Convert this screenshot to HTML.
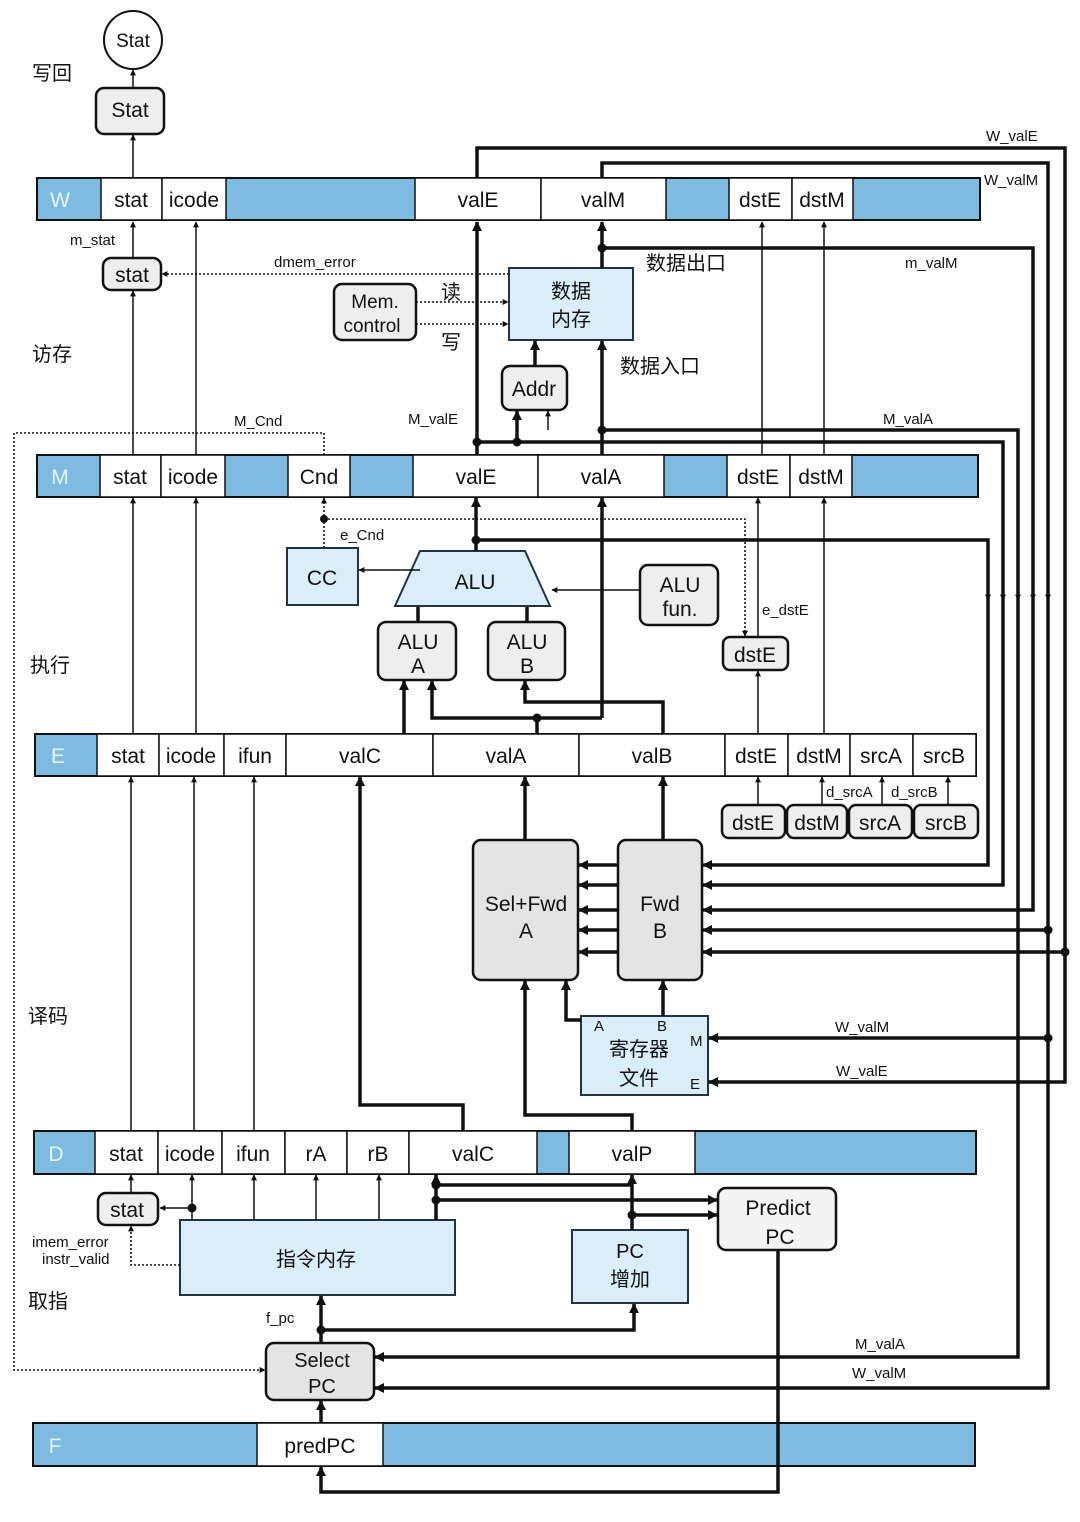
<!DOCTYPE html>
<html><head><meta charset="utf-8"><style>
html,body{margin:0;padding:0;background:#fff}
svg{display:block}
text{font-family:"Liberation Sans","Noto Sans CJK SC",sans-serif;fill:#111}
.cj{font-family:"Liberation Sans","Noto Sans CJK SC",sans-serif}
</style></head><body>
<svg width="1080" height="1522" viewBox="0 0 1080 1522" xmlns="http://www.w3.org/2000/svg">
<defs>
<marker id="a" viewBox="0 0 10 10" refX="9" refY="5" markerWidth="11" markerHeight="10" markerUnits="userSpaceOnUse" orient="auto-start-reverse"><path d="M0,0 L10,5 L0,10 z" fill="#111"/></marker>
<marker id="b" viewBox="0 0 10 10" refX="9" refY="5" markerWidth="7" markerHeight="6" markerUnits="userSpaceOnUse" orient="auto-start-reverse"><path d="M0,0 L10,5 L0,10 z" fill="#111"/></marker>
</defs>
<g fill="#7dbbe0" stroke="#111" stroke-width="2">
<rect x="37" y="178" width="943" height="42"/>
<rect x="37" y="455" width="941" height="42"/>
<rect x="35" y="734" width="941" height="42"/>
<rect x="34" y="1131" width="942" height="43"/>
<rect x="33" y="1423" width="942" height="43"/>
</g>
<g fill="#fff" stroke="#111" stroke-width="1.5">
<rect x="101" y="178" width="61" height="42"/><rect x="162" y="178" width="64" height="42"/>
<rect x="415" y="178" width="126" height="42"/><rect x="541" y="178" width="125" height="42"/>
<rect x="729" y="178" width="63" height="42"/><rect x="792" y="178" width="61" height="42"/>
<rect x="100" y="455" width="61" height="42"/><rect x="161" y="455" width="64" height="42"/>
<rect x="288" y="455" width="62" height="42"/>
<rect x="413" y="455" width="125" height="42"/><rect x="538" y="455" width="126" height="42"/>
<rect x="727" y="455" width="63" height="42"/><rect x="790" y="455" width="62" height="42"/>
<rect x="97" y="734" width="62" height="42"/><rect x="159" y="734" width="65" height="42"/>
<rect x="224" y="734" width="62" height="42"/><rect x="286" y="734" width="147" height="42"/>
<rect x="433" y="734" width="146" height="42"/><rect x="579" y="734" width="146" height="42"/>
<rect x="725" y="734" width="63" height="42"/><rect x="788" y="734" width="62" height="42"/>
<rect x="850" y="734" width="63" height="42"/><rect x="913" y="734" width="63" height="42"/>
<rect x="95" y="1131" width="63" height="43"/><rect x="158" y="1131" width="64" height="43"/>
<rect x="222" y="1131" width="63" height="43"/><rect x="285" y="1131" width="62" height="43"/>
<rect x="347" y="1131" width="62" height="43"/><rect x="409" y="1131" width="128" height="43"/>
<rect x="569" y="1131" width="126" height="43"/>
<rect x="257" y="1423" width="126" height="43"/>
</g>
<g font-size="21" text-anchor="middle">
<text x="60" y="207" style="fill:#e8f4fb">W</text>
<text x="131" y="207">stat</text><text x="194" y="207">icode</text><text x="478" y="207">valE</text><text x="603" y="207">valM</text><text x="760" y="207">dstE</text><text x="822" y="207">dstM</text>
<text x="60" y="484" style="fill:#e8f4fb">M</text>
<text x="130" y="484">stat</text><text x="193" y="484">icode</text><text x="319" y="484">Cnd</text><text x="476" y="484">valE</text><text x="601" y="484">valA</text><text x="758" y="484">dstE</text><text x="821" y="484">dstM</text>
<text x="58" y="763" style="fill:#e8f4fb">E</text>
<text x="128" y="763">stat</text><text x="191" y="763">icode</text><text x="255" y="763">ifun</text><text x="360" y="763">valC</text><text x="506" y="763">valA</text><text x="652" y="763">valB</text><text x="756" y="763">dstE</text><text x="819" y="763">dstM</text><text x="881" y="763">srcA</text><text x="944" y="763">srcB</text>
<text x="56" y="1161" style="fill:#e8f4fb">D</text>
<text x="126" y="1161">stat</text><text x="190" y="1161">icode</text><text x="253" y="1161">ifun</text><text x="316" y="1161">rA</text><text x="378" y="1161">rB</text><text x="473" y="1161">valC</text><text x="632" y="1161">valP</text>
<text x="55" y="1453" style="fill:#e8f4fb">F</text>
<text x="320" y="1453">predPC</text>
</g>
<g font-size="20" class="cj">
<text x="32" y="80">写回</text><text x="32" y="361">访存</text><text x="30" y="672">执行</text><text x="28" y="1023">译码</text><text x="28" y="1308">取指</text>
</g>
<circle cx="133" cy="40" r="29" fill="#fff" stroke="#111" stroke-width="2"/>
<text x="133" y="47" font-size="19" text-anchor="middle">Stat</text>
<g stroke="#111" stroke-width="2.5" fill="#eee">
<rect x="96" y="88" width="68" height="46" rx="8"/>
<rect x="103" y="258" width="58" height="32" rx="8"/>
<rect x="334" y="284" width="82" height="56" rx="8"/>
<rect x="502" y="366" width="65" height="44" rx="8"/>
<rect x="640" y="565" width="78" height="60" rx="8"/>
<rect x="378" y="622" width="78" height="58" rx="8"/>
<rect x="488" y="622" width="77" height="58" rx="8"/>
<rect x="723" y="637" width="65" height="33" rx="7"/>
<rect x="722" y="805" width="63" height="33" rx="7"/><rect x="787" y="805" width="60" height="33" rx="7"/>
<rect x="849" y="805" width="63" height="33" rx="7"/><rect x="914" y="805" width="64" height="33" rx="7"/>
<rect x="473" y="840" width="105" height="140" rx="8" fill="#e4e4e4"/>
<rect x="618" y="840" width="84" height="140" rx="8" fill="#e4e4e4"/>
<rect x="98" y="1193" width="60" height="32" rx="8"/>
<rect x="718" y="1188" width="118" height="62" rx="8" fill="#f4f4f4"/>
<rect x="266" y="1343" width="108" height="57" rx="8" fill="#e4e4e4"/>
</g>
<g stroke="#234" stroke-width="2" fill="#d9eef9">
<rect x="509" y="268" width="124" height="72"/>
<rect x="287" y="548" width="71" height="57"/>
<path d="M395,606 L420,551 L525,551 L550,606 Z"/>
<rect x="581" y="1016" width="127" height="79"/>
<rect x="180" y="1220" width="275" height="75"/>
<rect x="572" y="1230" width="116" height="73"/>
</g>
<g font-size="21" text-anchor="middle">
<text x="130" y="117">Stat</text>
<text x="132" y="282">stat</text>
<text x="375" y="308" font-size="19">Mem.</text><text x="372" y="332" font-size="19">control</text>
<text x="534" y="396">Addr</text>
<text x="322" y="585">CC</text>
<text x="475" y="589">ALU</text>
<text x="680" y="592">ALU</text><text x="680" y="616">fun.</text>
<text x="418" y="649">ALU</text><text x="418" y="673">A</text>
<text x="527" y="649">ALU</text><text x="527" y="673">B</text>
<text x="755" y="662">dstE</text>
<text x="753" y="830">dstE</text><text x="817" y="830">dstM</text><text x="880" y="830">srcA</text><text x="946" y="830">srcB</text>
<text x="526" y="911">Sel+Fwd</text><text x="526" y="938">A</text>
<text x="660" y="911">Fwd</text><text x="660" y="938">B</text>
<text x="127" y="1217">stat</text>
<text x="778" y="1215">Predict</text><text x="780" y="1244">PC</text>
<text x="322" y="1367" font-size="20">Select</text><text x="322" y="1393" font-size="20">PC</text>
</g>
<g font-size="20" text-anchor="middle" class="cj">
<text x="571" y="298">数据</text><text x="571" y="326">内存</text>
<text x="639" y="1056">寄存器</text><text x="639" y="1085">文件</text>
<text x="316" y="1266">指令内存</text>
<text x="630" y="1258">PC</text><text x="630" y="1286">增加</text>
<text x="686" y="270">数据出口</text>
<text x="660" y="373">数据入口</text>
<text x="451" y="299">读</text><text x="451" y="349">写</text>
</g>
<g font-size="15">
<text x="594" y="1031">A</text><text x="657" y="1031">B</text><text x="690" y="1046">M</text><text x="690" y="1089">E</text>
<text x="986" y="141">W_valE</text><text x="984" y="185">W_valM</text>
<text x="70" y="245">m_stat</text><text x="274" y="267">dmem_error</text>
<text x="905" y="268">m_valM</text>
<text x="234" y="426">M_Cnd</text><text x="408" y="424">M_valE</text><text x="883" y="424">M_valA</text>
<text x="340" y="540">e_Cnd</text><text x="762" y="615">e_dstE</text>
<text x="826" y="797">d_srcA</text><text x="891" y="797">d_srcB</text>
<text x="835" y="1032">W_valM</text><text x="836" y="1076">W_valE</text>
<text x="32" y="1247">imem_error</text><text x="42" y="1264">instr_valid</text>
<text x="266" y="1323">f_pc</text>
<text x="855" y="1349">M_valA</text><text x="852" y="1378">W_valM</text>
</g>
<g stroke="#111" stroke-width="1.5" fill="none" marker-end="url(#b)">
<path d="M133,88 V70"/><path d="M133,178 V135"/><path d="M133,258 V222"/><path d="M133,455 V291"/>
<path d="M196,455 V222"/>
<path d="M762,455 V222"/><path d="M824,455 V222"/>
<path d="M133,734 V498"/><path d="M196,734 V498"/>
<path d="M758,637 V498"/><path d="M824,734 V498"/><path d="M758,734 V671"/>
<path d="M131,1131 V777"/><path d="M194,1131 V777"/><path d="M254,1131 V777"/>
<path d="M758,805 V777"/><path d="M822,805 V777"/><path d="M882,805 V777"/><path d="M948,805 V777"/>
<path d="M192,1220 V1175"/><path d="M254,1220 V1175"/><path d="M316,1220 V1175"/><path d="M379,1220 V1175"/>
<path d="M192,1208 H160"/><path d="M131,1193 V1175"/>
<path d="M548,430 V411"/>
<path d="M420,570 H359"/><path d="M640,590 H552"/>
</g>
<g stroke="#111" stroke-width="1.6" fill="none" stroke-dasharray="2,2" marker-end="url(#b)">
<path d="M509,274 H162"/><path d="M416,302 H508"/><path d="M416,324 H508"/>
<path d="M324,455 V433 H14 V1370 H265"/>
<path d="M324,548 V498"/><path d="M324,519 H745 V636"/>
<path d="M180,1265 H131 V1226"/>
</g>
<circle cx="324" cy="519" r="4" fill="#111"/>
<g stroke="#111" stroke-width="3.5" fill="none" marker-end="url(#a)">
<path d="M602,268 V222"/><path d="M477,455 V222"/>
<path d="M535,366 V341"/><path d="M517,442 V411"/>
<path d="M602,455 V341"/>
<path d="M476,551 V498"/><path d="M602,718 V498"/>
<path d="M418,622 V607" marker-end="none"/><path d="M527,622 V607" marker-end="none"/>
<path d="M404,734 V681"/>
<path d="M602,718 H432 V681"/>
<path d="M663,734 V702 H525 V681"/><path d="M537,734 V718" marker-end="none"/>
<path d="M525,840 V777"/><path d="M663,840 V777"/>
<path d="M463,1131 V1105 H360 V777"/>
<path d="M632,1131 V1115 H525 V981"/>
<path d="M581,1020 H566 V981"/>
<path d="M663,1016 V981"/>
<path d="M436,1220 V1175"/><path d="M436,1200 H717"/><path d="M632,1230 V1175"/><path d="M436,1185 H632" marker-end="none"/><path d="M632,1215 H717"/>
<path d="M321,1343 V1296"/><path d="M321,1330 H634 V1304"/>
<path d="M321,1423 V1401"/>
<path d="M778,1250 V1492 H321 V1467"/>
<path d="M477,178 V148 H1065 V1082 H709"/>
<path d="M602,178 V163 H1048 V1388 H375"/>
<path d="M602,248 H1033 V910 H703"/>
<path d="M602,430 H1018 V1357 H375"/>
<path d="M477,442 H1003 V885 H703"/>
<path d="M476,540 H988 V865 H703"/>
<path d="M1048,930 H703"/><path d="M1065,952 H703"/><path d="M1048,1038 H709"/>
<path d="M618,865 H579"/><path d="M618,885 H579"/><path d="M618,910 H579"/><path d="M618,930 H579"/><path d="M618,952 H579"/>
</g>
<g stroke="#111" stroke-width="1.5" fill="none" marker-end="url(#b)">
<path d="M988,585 V600"/><path d="M1003,585 V600"/><path d="M1018,585 V600"/><path d="M1033,585 V600"/><path d="M1048,585 V600"/>
</g>
<g fill="#111">
<circle cx="602" cy="248" r="4.5"/><circle cx="477" cy="442" r="4.5"/><circle cx="517" cy="442" r="4.5"/>
<circle cx="602" cy="430" r="4.5"/><circle cx="476" cy="540" r="4.5"/><circle cx="537" cy="718" r="4.5"/>
<circle cx="1048" cy="930" r="4.5"/><circle cx="1065" cy="952" r="4.5"/><circle cx="1048" cy="1038" r="4.5"/>
<circle cx="192" cy="1208" r="4.5"/><circle cx="436" cy="1185" r="4.5"/><circle cx="436" cy="1200" r="4.5"/>
<circle cx="632" cy="1215" r="4.5"/><circle cx="321" cy="1330" r="4.5"/>
</g>
</svg>
</body></html>
